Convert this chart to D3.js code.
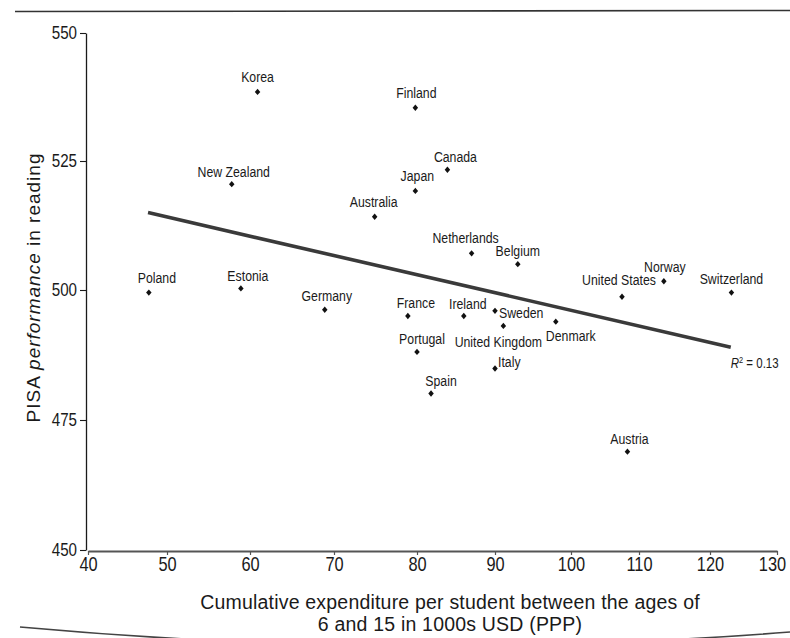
<!DOCTYPE html>
<html>
<head>
<meta charset="utf-8">
<script src="https://cdn.jsdelivr.net/npm/d3@7"></script>
<style>
  html, body { margin: 0; padding: 0; background: #fff; }
  svg { display: block; }
</style>
</head>
<body>
<svg id="chart" width="790" height="638"></svg>
<script>
// ---------------- DATA ----------------
const countries = ["Korea","Finland","Canada","New Zealand","Japan","Australia","Netherlands","Belgium",
  "Norway","Estonia","Switzerland","Poland","United States","Germany","Sweden","France","Ireland",
  "Denmark","United Kingdom","Portugal","Italy","Spain","Austria"];
const expenditure = [60.9, 79.8, 83.9, 57.8, 79.8, 74.9, 87.0, 93.0,
  113.5, 58.9, 123.2, 47.7, 107.5, 68.9, 90.0, 78.9, 86.0,
  98.0, 91.1, 80.0, 90.0, 81.8, 108.3];
const reading = [538.5, 535.4, 523.3, 520.5, 519.2, 514.2, 507.1, 505.0,
  501.7, 500.3, 499.5, 499.5, 498.7, 496.2, 496.0, 495.0, 495.0,
  493.9, 493.1, 488.1, 484.9, 480.1, 468.9];
const trendX = [47.6, 123.1];
const trendY = [515.0, 489.0];
const xTicks = [40, 50, 60, 70, 80, 90, 100, 110, 120, 130];
const yTicks = [450, 475, 500, 525, 550];
const rSquared = "0.13";

// ---------------- LAYOUT (label offsets in px: dx, dy, anchor) ----------------
const labelLayout = {
  "Korea": [0, -10, "middle"], "Finland": [1, -10, "middle"], "Canada": [8, -8, "middle"],
  "New Zealand": [2, -7, "middle"], "Japan": [2, -10, "middle"], "Australia": [-1, -10, "middle"],
  "Netherlands": [-6, -10, "middle"], "Belgium": [0, -8, "middle"], "Norway": [1, -9, "middle"],
  "Estonia": [7, -7, "middle"], "Switzerland": [0, -9, "middle"], "Poland": [8, -10, "middle"],
  "United States": [-3, -12, "middle"], "Germany": [2, -9, "middle"], "Sweden": [4, 7, "start"],
  "France": [8, -8, "middle"], "Ireland": [4, -7, "middle"], "Denmark": [15, 19, "middle"],
  "United Kingdom": [-5, 21, "middle"], "Portugal": [5, -8, "middle"], "Italy": [3, -2, "start"],
  "Spain": [10, -7, "middle"], "Austria": [2, -8, "middle"]
};

// ---------------- FONT ----------------
function hasFont(name) {
  const c = document.createElement("canvas").getContext("2d");
  const s = "abcdefgWMil0123";
  c.font = "40px monospace"; const w0 = c.measureText(s).width;
  c.font = `40px "${name}", monospace`; const w1 = c.measureText(s).width;
  return Math.abs(w0 - w1) > 0.5;
}
const narrowOK = hasFont("Liberation Sans Narrow");
const NARROW = narrowOK ? '"Liberation Sans Narrow", "Liberation Sans", Arial, sans-serif'
                        : '"Liberation Sans", Arial, sans-serif';
const SX = narrowOK ? 1 : 0.82;
function narrow(sel) {
  sel.each(function () {
    const t = d3.select(this);
    t.style("font-family", NARROW);
    if (SX !== 1) {
      const x = +t.attr("x") || 0, y = +t.attr("y") || 0;
      t.attr("transform", `translate(${x},${y}) scale(${SX},1)`).attr("x", 0).attr("y", 0);
    }
  });
}
const INK = "#1a1a1a";

// ---------------- SCALES ----------------
const svg = d3.select("#chart");
const x = d3.scaleLinear().domain(xTicks).range([88, 167, 250, 334, 417, 495, 571, 639, 710, 777]);
const y = d3.scaleLinear().domain(yTicks).range([550, 420, 290, 161, 33]);

// page rules (scan frame)
svg.append("line").attr("x1", 15).attr("x2", 790).attr("y1", 11.5).attr("y2", 10.5)
  .attr("stroke", "#333").attr("stroke-width", 1.6);
svg.append("path").attr("d", "M20,627 Q405,662 790,632")
  .attr("fill", "none").attr("stroke", "#444").attr("stroke-width", 1.6);

// ---------------- AXES ----------------
const gy = svg.append("g").attr("transform", `translate(86,0)`)
  .call(d3.axisLeft(y).tickValues(yTicks).tickSize(6).tickPadding(3).tickSizeOuter(0));
gy.select(".domain").attr("stroke", INK).attr("stroke-width", 1.3);
gy.selectAll(".tick line").attr("stroke", INK).attr("stroke-width", 1.1);
gy.selectAll(".tick text").attr("fill", INK).style("font-size", "18.5px").call(narrow);

const gx = svg.append("g").attr("transform", `translate(0,551)`)
  .call(d3.axisBottom(x).tickValues(xTicks).tickSize(4).tickPadding(2).tickSizeOuter(0));
gx.select(".domain").attr("stroke", "#555").attr("stroke-width", 1.8);
gx.selectAll(".tick line").attr("stroke", "#555").attr("stroke-width", 1.2);
gx.selectAll(".tick text")
  .attr("x", d => d === xTicks[xTicks.length - 1] ? -5 : 0)
  .attr("fill", INK).style("font-size", "20px").call(narrow);

// axis titles
const yt = svg.append("text")
  .attr("transform", "translate(40,287.5) rotate(-90)")
  .attr("text-anchor", "middle")
  .style("font-family", '"Liberation Sans", Arial, sans-serif')
  .style("font-size", "19px").style("letter-spacing", "1px").attr("fill", INK);
yt.append("tspan").text("PISA ");
yt.append("tspan").style("font-style", "italic").text("performance");
yt.append("tspan").text(" in reading");

const xtl = ["Cumulative expenditure per student between the ages of", "6 and 15 in 1000s USD (PPP)"];
svg.selectAll("text.xtitle").data(xtl).join("text").attr("class", "xtitle")
  .attr("x", 450).attr("y", (d, i) => i === 0 ? 608.5 : 631)
  .attr("text-anchor", "middle")
  .style("font-family", '"Liberation Sans", Arial, sans-serif')
  .style("font-size", "19.5px").style("letter-spacing", "0.2px").attr("fill", INK)
  .text(d => d);

// ---------------- TREND LINE ----------------
svg.append("path")
  .datum(trendX.map((v, i) => [v, trendY[i]]))
  .attr("d", d3.line().x(d => x(d[0])).y(d => y(d[1])))
  .attr("fill", "none").attr("stroke", "#3a3a3a").attr("stroke-width", 3.6)
  .attr("stroke-linecap", "butt");

const rt = svg.append("text").attr("x", x(trendX[1])).attr("y", y(trendY[1]) + 21)
  .style("font-family", NARROW).style("font-size", "14px").attr("fill", INK);
rt.append("tspan").style("font-style", "italic").text("R");
rt.append("tspan").attr("dy", -5).style("font-size", "9px").text("2");
rt.append("tspan").attr("dy", 5).text(" = " + rSquared);
if (SX !== 1) {
  const rx = +rt.attr("x"), ry = +rt.attr("y");
  rt.attr("transform", `translate(${rx},${ry}) scale(${SX},1)`).attr("x", 0).attr("y", 0);
}

// ---------------- POINTS ----------------
const pts = countries.map((c, i) => ({ c, xv: expenditure[i], yv: reading[i] }));
const diamond = d3.symbol().type(d3.symbolSquare).size(15);
svg.append("g").selectAll("path").data(pts).join("path")
  .attr("d", diamond)
  .attr("transform", d => `translate(${x(d.xv)},${y(d.yv)}) scale(1,1.15) rotate(45)`)
  .attr("fill", "#111");

svg.append("g").selectAll("text").data(pts).join("text")
  .attr("x", d => x(d.xv) + labelLayout[d.c][0])
  .attr("y", d => y(d.yv) + labelLayout[d.c][1])
  .attr("text-anchor", d => labelLayout[d.c][2])
  .style("font-size", "15px").attr("fill", INK)
  .text(d => d.c)
  .call(narrow);
</script>
</body>
</html>
